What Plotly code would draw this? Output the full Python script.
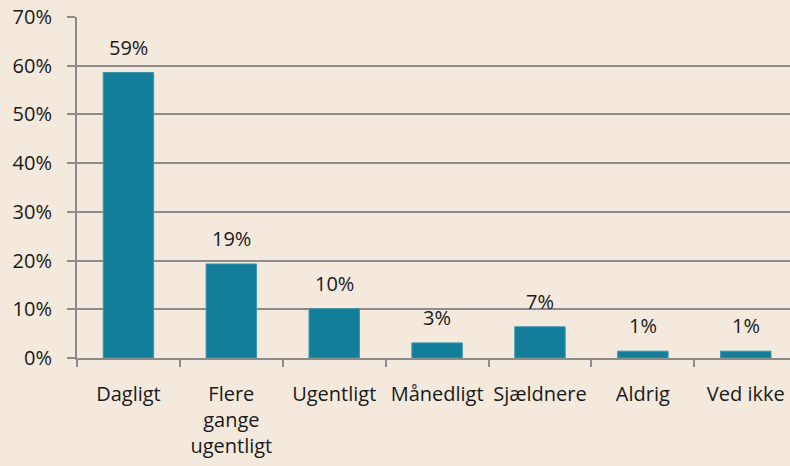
import plotly.graph_objects as go

categories = ["Dagligt", "Flere<br>gange<br>ugentligt", "Ugentligt", "Månedligt", "Sjældnere", "Aldrig", "Ved ikke"]
values = [58.6, 19.3, 10.1, 3.1, 6.4, 1.4, 1.4]
labels = ["59%", "19%", "10%", "3%", "7%", "1%", "1%"]
y_ticks = [0, 10, 20, 30, 40, 50, 60, 70]
y_ticklabels = ["0%", "10%", "20%", "30%", "40%", "50%", "60%", "70%"]

bg = "#F4E9DD"
bar_color = "#127E9A"
grid_color = "#8C8C8C"
font_family = "Open Sans, Noto Sans, sans-serif"
fs = 20

fig = go.Figure()
fig.add_trace(go.Bar(
    x=categories, y=values, width=0.49,
    marker=dict(color=bar_color, line=dict(color="#3A95AD", width=1)),
    hoverinfo="skip",
))
for c, v, t in zip(categories, values, labels):
    fig.add_annotation(x=c, y=v, text=t, showarrow=False, yanchor="bottom",
                       yshift=10, font=dict(size=fs, color="#1a1a1a", family=font_family))

fig.update_layout(
    width=790, height=466,
    paper_bgcolor=bg, plot_bgcolor=bg,
    margin=dict(l=77, r=0, t=17, b=108),
    showlegend=False,
    font=dict(family=font_family, size=fs, color="#1a1a1a"),
    bargap=0.5,
)
fig.update_xaxes(
    range=[-0.5, 6.43], automargin=False, tickangle=0,
    showline=True, linecolor=grid_color, linewidth=2,
    ticks="outside", tickson="boundaries", ticklen=7, tickcolor=grid_color, tickwidth=2,
    showgrid=False, tickfont=dict(size=fs), ticklabelstandoff=17,
)
fig.update_yaxes(
    range=[0, 70], tickvals=y_ticks, ticktext=y_ticklabels, automargin=False,
    showline=True, linecolor=grid_color, linewidth=2,
    ticks="outside", ticklen=8, tickcolor=grid_color, tickwidth=2,
    showgrid=True, gridcolor=grid_color, gridwidth=2,
    zeroline=False, tickfont=dict(size=fs), ticklabelstandoff=11,
)
fig.write_html("out.html", config={"displayModeBar": False},
               post_script="document.body.style.margin='0';document.body.style.overflow='hidden';")
